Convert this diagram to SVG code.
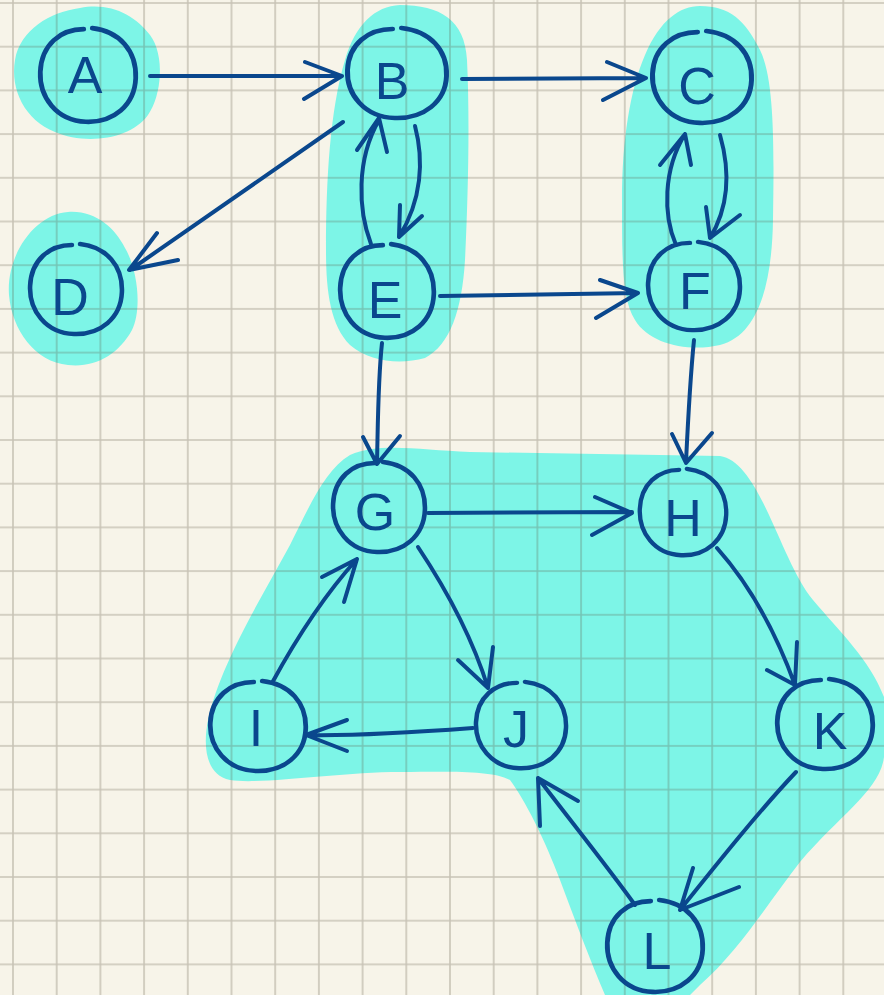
<svg xmlns="http://www.w3.org/2000/svg" xmlns:xlink="http://www.w3.org/1999/xlink" width="884" height="995" viewBox="0 0 884 995">
<defs>
<pattern id="grid" patternUnits="userSpaceOnUse" x="-8.85" y="-18.85" width="43.7" height="43.7">
<path d="M21.85 0 V43.7 M0 21.85 H43.7" stroke="#5e5440" stroke-opacity="0.3" stroke-width="1.6" fill="none"/>
</pattern>
<path id="ring" d="M -4,-45 C -26,-45 -44,-30 -45,-4 C -46,20 -30,43 -2,44 C 24,45 44,28 45,2 C 46,-24 30,-43 4,-46"/>
</defs>
<style>
.blob{fill:#7df5e7;stroke:none}
.edge{fill:none;stroke:#0a478d;stroke-width:4;stroke-linecap:round;stroke-linejoin:round}
.ring{fill:none;stroke:#0a478d;stroke-width:4.5;stroke-linecap:round}
.lbl{font-family:"Liberation Sans","DejaVu Sans",sans-serif;font-size:52px;fill:#0a478d;text-anchor:middle}
</style>
<rect width="884" height="995" fill="#f7f4e9"/>
<g id="highlights">
<path class="blob" d="M 80,8 C 110,2 135,15 150,35 C 165,55 162,95 148,115 C 130,140 85,145 55,132 C 25,120 10,90 15,60 C 20,30 50,12 80,8 Z"/>
<path class="blob" d="M 68,212 C 95,210 115,228 125,248 C 138,270 142,310 132,330 C 118,355 95,368 68,365 C 35,362 12,330 9,295 C 6,255 35,214 68,212 Z"/>
<path class="blob" d="M 400,5 C 440,5 465,20 467,60 C 470,120 468,200 465,260 C 462,310 450,345 425,358 C 400,365 370,362 350,345 C 330,325 326,290 326,250 C 326,180 330,110 345,60 C 355,25 375,6 400,5 Z"/>
<path class="blob" d="M 700,6 C 730,6 745,20 760,50 C 775,80 774,150 773,220 C 772,280 760,335 720,345 C 690,352 650,345 635,320 C 622,300 622,260 622,200 C 622,140 630,90 645,55 C 660,20 680,6 700,6 Z"/>
<path class="blob" d="M 350,455 C 380,442 420,450 470,452 L 720,456 C 760,462 780,560 813,600 C 840,632 870,660 884,697 L 884,757 C 880,790 840,815 800,862 C 770,900 740,950 700,985 L 690,995 L 605,995 C 590,960 575,920 560,880 C 545,840 525,800 510,780 C 490,770 450,772 400,772 C 340,772 260,785 230,780 C 205,775 203,745 208,720 C 220,665 260,600 290,545 C 310,505 325,470 350,455 Z"/>
</g>
<rect width="884" height="995" fill="url(#grid)"/>
<g id="edges">
<path class="edge" d="M 150,76 L 342,76 M 305,62 L 342,76 L 304,99"/>
<path class="edge" d="M 462,79 L 646,78 M 607,62 L 646,78 L 603,100"/>
<path class="edge" d="M 343,122 L 130,270 M 157,233 L 129,270 L 178,260"/>
<path class="edge" d="M 371,244 C 358,210 356,160 379,120 M 357,150 L 379,118 L 387,152"/>
<path class="edge" d="M 415,126 C 424,160 422,200 399,237 M 400,205 L 399,237 L 422,216"/>
<path class="edge" d="M 676,245 C 663,215 663,170 685,134 M 660,165 L 685,134 L 691,165"/>
<path class="edge" d="M 720,135 C 730,170 730,205 710,238 M 706,207 L 710,238 L 740,215"/>
<path class="edge" d="M 440,296 L 638,293 M 600,280 L 638,293 L 596,318"/>
<path class="edge" d="M 382,343 C 378,380 378,420 377,463 M 363,437 L 377,464 L 400,436"/>
<path class="edge" d="M 694,340 C 690,380 688,420 686,462 M 672,434 L 686,463 L 712,433"/>
<path class="edge" d="M 428,513 L 632,512 M 595,497 L 632,513 L 592,535"/>
<path class="edge" d="M 418,547 C 440,580 470,630 488,688 M 458,660 L 488,688 L 493,647"/>
<path class="edge" d="M 272,683 C 290,650 320,600 357,559 M 322,577 L 357,559 L 344,602"/>
<path class="edge" d="M 473,728 C 420,732 360,736 306,735 M 347,720 L 306,735 L 347,751"/>
<path class="edge" d="M 717,548 C 750,585 775,630 795,685 M 767,670 L 795,685 L 797,642"/>
<path class="edge" d="M 796,772 C 760,810 720,860 680,910 M 693,868 L 680,910 L 739,887"/>
<path class="edge" d="M 635,905 C 610,870 570,820 538,778 M 540,826 L 538,778 L 578,801"/>
</g>
<g id="A"><use xlink:href="#ring" class="ring" transform="translate(88,76) scale(1.06,1.04)"/><text class="lbl" x="85" y="93">A</text></g>
<g id="B"><use xlink:href="#ring" class="ring" transform="translate(397,74) scale(1.1,1.0)"/><text class="lbl" x="392" y="99">B</text></g>
<g id="C"><use xlink:href="#ring" class="ring" transform="translate(702,78) scale(1.1,1.02)"/><text class="lbl" x="697" y="104">C</text></g>
<g id="D"><use xlink:href="#ring" class="ring" transform="translate(76,290) scale(1.02,1.0)"/><text class="lbl" x="70" y="315">D</text></g>
<g id="E"><use xlink:href="#ring" class="ring" transform="translate(387,292) scale(1.04,1.04)"/><text class="lbl" x="385" y="318">E</text></g>
<g id="F"><use xlink:href="#ring" class="ring" transform="translate(694,287) scale(1.02,0.98)"/><text class="lbl" x="695" y="309">F</text></g>
<g id="G"><use xlink:href="#ring" class="ring" transform="translate(379,508) scale(1.02,1.0)"/><text class="lbl" x="375" y="530">G</text></g>
<g id="H"><use xlink:href="#ring" class="ring" transform="translate(683,513) scale(0.96,0.96)"/><text class="lbl" x="683" y="536">H</text></g>
<g id="I"><use xlink:href="#ring" class="ring" transform="translate(258,727) scale(1.06,1.0)"/><text class="lbl" x="256" y="746">I</text></g>
<g id="J"><use xlink:href="#ring" class="ring" transform="translate(521,726) scale(1.0,0.96)"/><text class="lbl" x="516" y="747">J</text></g>
<g id="K"><use xlink:href="#ring" class="ring" transform="translate(825,725) scale(1.06,1.0)"/><text class="lbl" x="830" y="749">K</text></g>
<g id="L"><use xlink:href="#ring" class="ring" transform="translate(655,947) scale(1.06,1.02)"/><text class="lbl" x="657" y="969">L</text></g>
</svg>
